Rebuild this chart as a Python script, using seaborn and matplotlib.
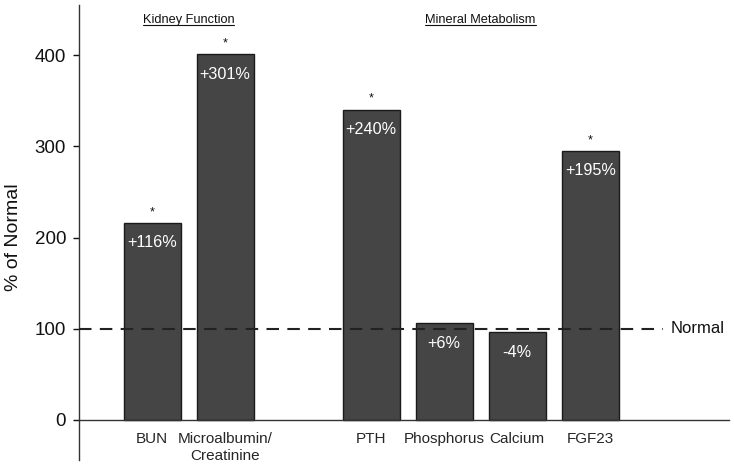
import pandas as pd
import matplotlib
matplotlib.use("Agg")
import matplotlib.pyplot as plt
import seaborn as sns
from matplotlib.lines import Line2D

# chart data
markers = ["BUN", "Microalbumin/\nCreatinine", "PTH", "Phosphorus", "Calcium", "FGF23"]
slots = [0, 1, 3, 4, 5, 6]
pct_normal = [216, 401, 340, 106, 96, 295]
change_labels = ["+116%", "+301%", "+240%", "+6%", "-4%", "+195%"]
significant = [True, True, True, False, False, True]
groups = ["Kidney Function", "Mineral Metabolism"]
group_centers = [0.5, 4.5]
y_ticks = [0, 100, 200, 300, 400]

df = pd.DataFrame({"slot": slots, "value": pct_normal, "marker": markers})

sns.set_theme(style="white")
plt.rcParams["font.family"] = ["Liberation Sans", "DejaVu Sans"]

fig = plt.figure(figsize=(7.34, 4.66), dpi=100)
ax = fig.add_axes([79 / 734, 6 / 466, (729 - 79) / 734, (460 - 5) / 466])

sns.barplot(data=df, x="slot", y="value", native_scale=True, width=0.78,
            color="#454545", saturation=1, edgecolor="#1a1a1a", linewidth=1.0, ax=ax)

ax.set_xlim(-1.0, 7.9)
ax.set_ylim(-44, 455)

# reference line at 100%
ax.plot([-1.0, 7.0], [100, 100], color="#222222", lw=1.5, ls=(0, (6, 4)), zorder=3)
ax.text(7.1, 100, "Normal", ha="left", va="center", fontsize=12, color="#111111")

for x, v, lab, sig in zip(slots, pct_normal, change_labels, significant):
    ax.text(x, v - 22, lab, ha="center", va="center", color="white", fontsize=11.7, zorder=4)
    if sig:
        ax.text(x, v + 12, "*", ha="center", va="center", fontsize=9, color="#111111")

# group headings (underlined)
fig.canvas.draw()
for name, cx in zip(groups, group_centers):
    t = ax.text(cx, 439, name, ha="center", va="center", fontsize=9.2, color="#111111")
    fig.canvas.draw()
    bb = t.get_window_extent().transformed(fig.transFigure.inverted())
    fig.add_artist(Line2D([bb.x0, bb.x1], [bb.y0 + 0.001, bb.y0 + 0.001],
                          transform=fig.transFigure, color="#111111", lw=0.8))

ax.set_xticks(slots)
ax.set_xticklabels(markers, fontsize=7.2, color="#111111", linespacing=1.1)
ax.tick_params(axis="x", length=0, pad=9)
ax.set_yticks(y_ticks)
ax.tick_params(axis="y", labelsize=13.5, length=4.3, width=1, direction="out", colors="#111111", left=True, pad=5)
ax.set_xlabel("")
ax.set_ylabel("")
fig.text(14 / 734, 1 - 237 / 466, "% of Normal", rotation=90, ha="center", va="center",
         fontsize=14, color="#111111")

for s in ["top", "right"]:
    ax.spines[s].set_visible(False)
ax.spines["bottom"].set_position(("data", 0))
ax.spines["bottom"].set_color("#333333")
ax.spines["left"].set_color("#333333")
ax.spines["bottom"].set_linewidth(1)
ax.spines["left"].set_linewidth(1)

fig.savefig("out.png", dpi=100)
